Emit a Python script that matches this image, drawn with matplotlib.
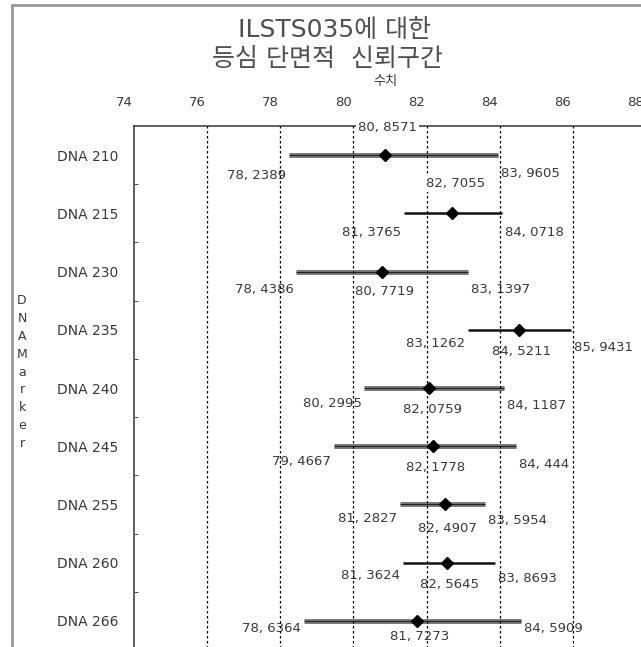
import numpy as np
import matplotlib
matplotlib.use("Agg")
import matplotlib.pyplot as plt
from matplotlib.patches import Rectangle
from matplotlib.transforms import ScaledTranslation

plt.rcParams['font.family'] = ['DejaVu Sans', 'Noto Sans CJK KR']

# data
markers = ["DNA 210", "DNA 215", "DNA 230", "DNA 235", "DNA 240",
           "DNA 245", "DNA 255", "DNA 260", "DNA 266"]
lower = [78.2389, 81.3765, 78.4386, 83.1262, 80.2995, 79.4667, 81.2827, 81.3624, 78.6364]
mean = [80.8571, 82.7055, 80.7719, 84.5211, 82.0759, 82.1778, 82.4907, 82.5645, 81.7273]
upper = [83.9605, 84.0718, 83.1397, 85.9431, 84.1187, 84.444, 83.5954, 83.8693, 84.5909]
xticks = [74, 76, 78, 80, 82, 84, 86, 88]

# label vertical offsets in pixels (positive = downward)
dy_lo = [20, 19, 18, 14, 15, 15, 14, 13, 8]
dy_mean = [-28, -30, 20, 22, 21, 21, 24, 22, 16]
dy_hi = [18, 19, 18, 18, 17, 18, 16, 16, 8]
thick = [True, False, True, False, True, True, True, False, True]

W, H = 641, 647
fig = plt.figure(figsize=(W / 100, H / 100), dpi=100)
txt = '#3a3a3a'

# outer frame
fig.patches.append(Rectangle((12 / W, -0.1), 2.0, 1 - 5 / H + 0.1, transform=fig.transFigure,
                             fill=False, ec='#999999', lw=2.0))

ax = fig.add_axes([134 / W, (H - 650) / H, 512 / W, (650 - 126) / H])
ax.set_xlim(74, 88)
ax.set_ylim(len(markers) - 0.5, -0.5)

def fmt(v):
    s = ("%.4f" % v).rstrip('0').rstrip('.')
    return s.replace('.', ', ')

for i in range(len(markers)):
    if thick[i]:
        ax.plot([lower[i], upper[i]], [i, i], color='#7a7a7a', lw=3.6, solid_capstyle='butt', zorder=2)
        ax.plot([lower[i], upper[i]], [i, i], color='#222222', lw=0.8, solid_capstyle='butt', zorder=2)
    else:
        ax.plot([lower[i], upper[i]], [i, i], color='#111111', lw=1.8, solid_capstyle='butt', zorder=2)
    ax.plot(mean[i], i, marker='D', color='black', ms=6.5, zorder=4)

    ax.annotate(fmt(lower[i]), (lower[i], i), xytext=(-2, -dy_lo[i] * 0.72),
                textcoords='offset points', ha='right', va='center',
                fontsize=9.5, color=txt, annotation_clip=False)
    ax.annotate(fmt(upper[i]), (upper[i], i), xytext=(2, -dy_hi[i] * 0.72),
                textcoords='offset points', ha='left', va='center',
                fontsize=9.5, color=txt, annotation_clip=False)
    bb = dict(boxstyle='square,pad=0.15', fc='white', ec='none') if dy_mean[i] < 0 else None
    ax.annotate(fmt(mean[i]), (mean[i], i), xytext=(2, -dy_mean[i] * 0.72),
                textcoords='offset points', ha='center', va='center',
                fontsize=9.5, color=txt, annotation_clip=False, bbox=bb, zorder=5)

# dotted grid lines
for x in xticks[1:-1]:
    ax.axvline(x, color='black', lw=0.9, ls=(0, (2, 2)), zorder=3)

ax.xaxis.tick_top()
ax.set_xticks(xticks)
ax.tick_params(axis='x', length=0, pad=12, labelsize=9.5, labelcolor=txt)
off = ScaledTranslation(-10 / 100, 0, fig.dpi_scale_trans)
for lab in ax.get_xticklabels():
    lab.set_transform(lab.get_transform() + off)

ax.set_yticks(range(len(markers)))
ax.set_yticklabels(markers)
ax.set_yticks(np.arange(0.5, len(markers) - 0.5, 1.0), minor=True)
ax.tick_params(axis='y', which='major', length=0, pad=11, labelsize=10, labelcolor=txt)
ax.tick_params(axis='y', which='minor', length=3, direction='in', color='#333333')

for s in ['right', 'bottom']:
    ax.spines[s].set_visible(False)
for s in ['top', 'left']:
    ax.spines[s].set_color('#444444')
    ax.spines[s].set_linewidth(1.2)

fig.text(335 / W, 1 - 30 / H, "ILSTS035에 대한", ha='center', va='center', fontsize=18, color='#505050')
fig.text(327 / W, 1 - 59 / H, "등심 단면적  신뢰구간", ha='center', va='center', fontsize=18, color='#505050')
fig.text(385 / W, 1 - 81 / H, "수치", ha='center', va='center', fontsize=9.5, color=txt)
fig.text(22 / W, 1 - 372 / H, "D\nN\nA\nM\na\nr\nk\ne\nr", ha='center', va='center',
         fontsize=9, color=txt, linespacing=1.48)

fig.savefig("out.png", dpi=100)
